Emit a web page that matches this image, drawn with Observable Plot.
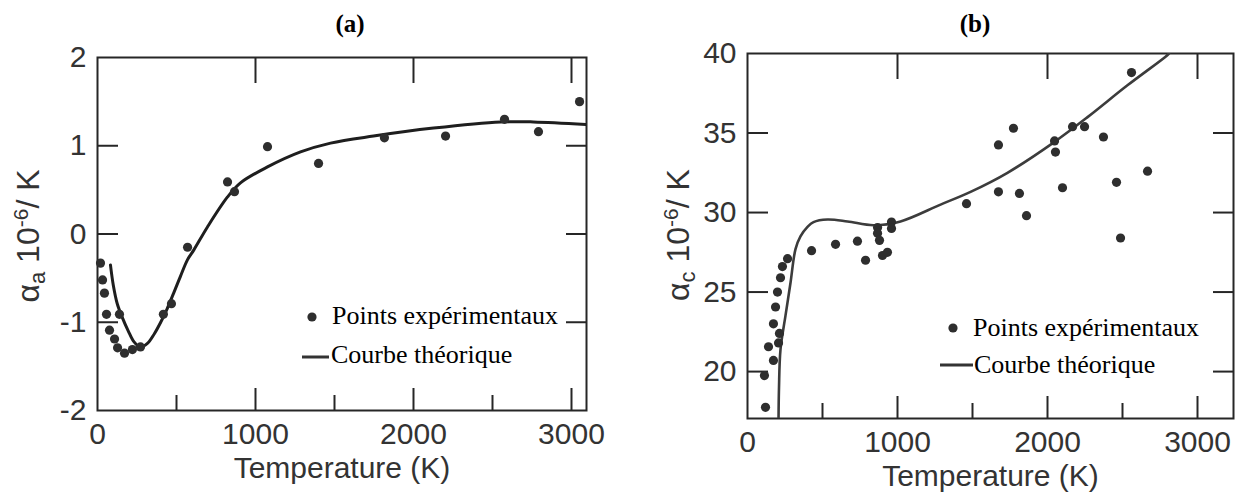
<!DOCTYPE html>
<html><head><meta charset="utf-8">
<script src="https://cdn.jsdelivr.net/npm/d3@7"></script>
<script src="https://cdn.jsdelivr.net/npm/@observablehq/plot@0.6"></script>
<style>
body{margin:0;background:#fff;}
#wrap{position:relative;width:1250px;height:497px;overflow:hidden;background:#fff;}
.panel{position:absolute;top:40px;width:625px;height:457px;}
.title{position:absolute;top:11px;font-family:"Liberation Serif","Times New Roman",serif;font-weight:bold;font-size:25px;line-height:25px;color:#000;transform:translateX(-50%);white-space:nowrap;}
</style></head><body>
<div id="wrap">
  <div class="title" style="left:350px">(a)</div>
  <div class="title" style="left:975px">(b)</div>
  <div id="pa" class="panel" style="left:0"></div>
  <div id="pb" class="panel" style="left:625px"></div>
</div>
<script>
// ---------- Panel (a) data ----------
const aPointT = [19, 32, 44, 57, 76, 108, 127, 139, 171, 221, 272, 417, 468, 570, 823, 867, 1076, 1399, 1816, 2203, 2576, 2791, 3051];
const aPointV = [-0.33, -0.52, -0.67, -0.91, -1.09, -1.19, -1.29, -0.91, -1.35, -1.31, -1.28, -0.91, -0.79, -0.15, 0.59, 0.48, 0.99, 0.80, 1.09, 1.11, 1.30, 1.16, 1.50];
const aCurveT = [82, 100, 125, 158, 195, 230, 270, 316, 360, 400, 440, 482, 525, 570, 610, 696, 823, 905, 1076, 1285, 1475, 1747, 2127, 2551, 2759, 3095];
const aCurveV = [-0.35, -0.58, -0.79, -0.95, -1.10, -1.22, -1.28, -1.24, -1.13, -1.00, -0.85, -0.67, -0.48, -0.29, -0.18, 0.08, 0.42, 0.58, 0.76, 0.93, 1.03, 1.11, 1.20, 1.27, 1.27, 1.24];
const aXLabels = [0, 1000, 2000, 3000];
const aYLabels = [-2, -1, 0, 1, 2];
const aXMajor = [1000, 2000, 3000];
const aXMinor = [500, 1500, 2500];
const aYTicks = [-1, 0, 1];

// ---------- Panel (b) data ----------
const bPointT = [120, 113, 173, 140, 207, 213, 173, 187, 200, 220, 233, 267, 427, 587, 733, 787, 867, 867, 880, 900, 933, 960, 960, 1460, 1673, 1673, 1773, 1813, 1860, 2047, 2053, 2100, 2167, 2247, 2373, 2460, 2487, 2560, 2667];
const bPointV = [17.75, 19.75, 20.7, 21.56, 21.8, 22.4, 23.0, 24.06, 25.0, 25.9, 26.6, 27.1, 27.6, 28.0, 28.2, 27.0, 29.06, 28.7, 28.25, 27.3, 27.5, 29.4, 29.0, 30.56, 34.25, 31.3, 35.3, 31.2, 29.8, 34.5, 33.8, 31.56, 35.4, 35.4, 34.75, 31.9, 28.4, 38.8, 32.6];
const bCurveT = [207, 210, 220, 253, 287, 320, 353, 400, 440, 533, 667, 840, 1020, 1287, 1487, 1733, 2040, 2267, 2533, 2787, 2810];
const bCurveV = [17.05, 19.0, 21.4, 23.5, 25.6, 27.7, 28.5, 29.1, 29.4, 29.56, 29.44, 29.2, 29.44, 30.5, 31.3, 32.5, 34.4, 36.0, 38.0, 39.8, 40.0];
const bXLabels = [0, 1000, 2000, 3000];
const bYLabels = [20, 25, 30, 35, 40];
const bXMajor = [1000, 2000, 3000];
const bXMinor = [500, 1500, 2500];
const bYTicks = [20, 25, 30, 35];

const legendPoints = "Points expérimentaux";
const legendCurve = "Courbe théorique";
const xTitle = "Temperature (K)";

const INK = "#262626";
const sansFont = "'Liberation Sans', Arial, sans-serif";
const serifFont = "'Liberation Serif', 'Times New Roman', serif";

function zip(t, v) { return t.map((d, i) => ({t: d, v: v[i]})); }

function makePanel(cfg) {
  const pts = zip(cfg.pt, cfg.pv);
  const crv = zip(cfg.ct, cfg.cv);
  const W = 625 - cfg.ml - cfg.mr, H = 457 - cfg.mt - cfg.mb;
  const tk = {stroke: INK, strokeWidth: 2};
  const svg = Plot.plot({
    width: 625, height: 457,
    marginLeft: cfg.ml, marginRight: cfg.mr, marginTop: cfg.mt, marginBottom: cfg.mb,
    style: {fontSize: "30px", fontFamily: sansFont, color: "#333", background: "transparent", overflow: "visible"},
    x: {domain: cfg.xd},
    y: {domain: cfg.yd},
    marks: [
      Plot.axisX(cfg.xl, {tickSize: 0, tickPadding: 12, tickFormat: d => String(d), label: null, fill: "#333"}),
      Plot.axisY(cfg.yl, {tickSize: 0, tickPadding: 11, tickFormat: d => String(d), label: null, fill: "#333"}),
      // inward ticks
      Plot.ruleX(cfg.xMajor, {x: d => d, insetTop: H - 22, ...tk}),
      Plot.ruleX(cfg.xMinor, {x: d => d, insetTop: H - 15, ...tk}),
      Plot.ruleX(cfg.xMajor, {x: d => d, insetBottom: H - 26, ...tk}),
      Plot.ruleY(cfg.yTicks, {y: d => d, insetRight: W - 21, ...tk}),
      Plot.ruleY(cfg.yTicks, {y: d => d, insetLeft: W - 20, ...tk}),
      Plot.frame({stroke: INK, strokeWidth: 2}),
      Plot.line(crv, {x: "t", y: "v", stroke: cfg.curveColor, strokeWidth: cfg.curveWidth, curve: "catmull-rom", clip: true}),
      Plot.dot(pts, {x: "t", y: "v", r: 4.6, fill: "#2e2e2e", stroke: "none"}),
      Plot.text([xTitle], {frameAnchor: "bottom", dy: 58, fontSize: 30, fill: "#333", lineAnchor: "middle"})
    ]
  });
  const s = d3.select(svg);
  // y-axis title with sub/superscripts
  const t = s.append("text")
    .attr("transform", `translate(${cfg.ylx},${cfg.yly}) rotate(-90)`)
    .attr("text-anchor", "middle").attr("dy", "0.36em")
    .attr("fill", "#333").attr("font-family", sansFont).attr("font-size", 32);
  t.append("tspan").text("α");
  t.append("tspan").attr("font-size", 22).attr("dy", 6).text(cfg.sub);
  t.append("tspan").attr("dy", -6).text(" 10");
  t.append("tspan").attr("font-size", 21).attr("dy", -11).text("-6");
  t.append("tspan").attr("dy", 11).text("/ K");
  // legend
  const L = cfg.legend;
  const g = s.append("g").attr("text-anchor", "start").attr("font-family", serifFont).attr("font-size", 26).attr("fill", "#000");
  g.append("circle").attr("cx", L.dx).attr("cy", L.dy).attr("r", 4.6).attr("fill", "#2e2e2e");
  g.append("text").attr("x", L.tx).attr("y", L.ty1).attr("text-anchor", "start").text(legendPoints);
  g.append("line").attr("x1", L.lx1).attr("x2", L.lx2).attr("y1", L.ly).attr("y2", L.ly).attr("stroke", "#333").attr("stroke-width", 3);
  g.append("text").attr("x", L.tx2).attr("y", L.ty2).attr("text-anchor", "start").text(legendCurve);
  return svg;
}

document.getElementById("pa").appendChild(makePanel({
  pt: aPointT, pv: aPointV, ct: aCurveT, cv: aCurveV,
  xd: [0, 3095], yd: [-2, 2], xl: aXLabels, yl: aYLabels,
  xMajor: aXMajor, xMinor: aXMinor, yTicks: aYTicks,
  ml: 97, mr: 39, mt: 17, mb: 87,
  curveColor: "#1e1e1e", curveWidth: 3,
  sub: "a", ylx: 27, yly: 196,
  legend: {dx: 312, dy: 277, tx: 332, ty1: 284, lx1: 302, lx2: 329, ly: 317, tx2: 331, ty2: 323}
}));

document.getElementById("pb").appendChild(makePanel({
  pt: bPointT, pv: bPointV, ct: bCurveT, cv: bCurveV,
  xd: [0, 3240], yd: [17.05, 40], xl: bXLabels, yl: bYLabels,
  xMajor: bXMajor, xMinor: bXMinor, yTicks: bYTicks,
  ml: 122, mr: 17, mt: 13, mb: 79,
  curveColor: "#3c3c3c", curveWidth: 2.6,
  sub: "c", ylx: 52, yly: 195,
  legend: {dx: 328, dy: 288, tx: 348, ty1: 296, lx1: 315, lx2: 348, ly: 325, tx2: 349, ty2: 333}
}));
</script>
</body></html>
